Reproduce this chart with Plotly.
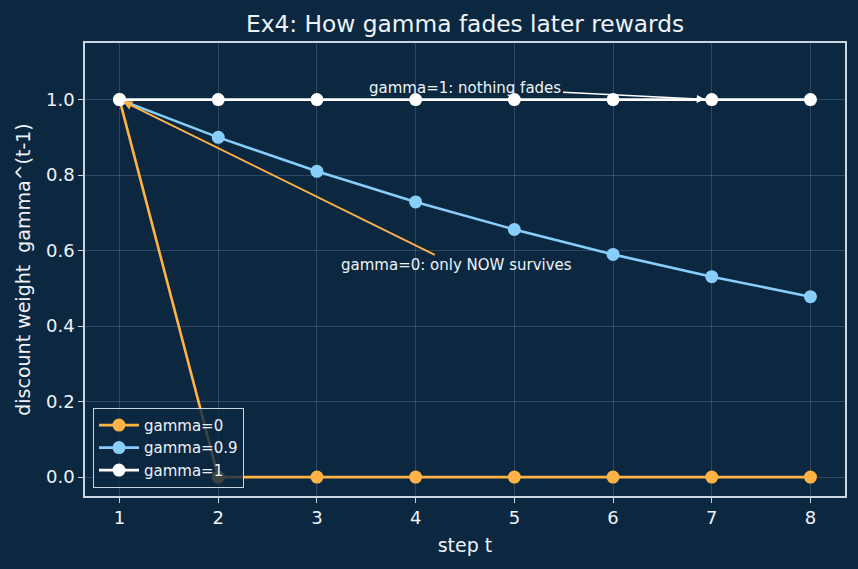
import plotly.graph_objects as go

# ---- data ----
steps = [1, 2, 3, 4, 5, 6, 7, 8]
gamma_0 = [1.0, 0.0, 0.0, 0.0, 0.0, 0.0, 0.0, 0.0]
gamma_09 = [1.0, 0.90, 0.81, 0.729, 0.656, 0.590, 0.531, 0.478]
gamma_1 = [1.0, 1.0, 1.0, 1.0, 1.0, 1.0, 1.0, 1.0]
series_names = ["gamma=0", "gamma=0.9", "gamma=1"]
x_ticks = [1, 2, 3, 4, 5, 6, 7, 8]
y_ticks = [0.0, 0.2, 0.4, 0.6, 0.8, 1.0]

BG = "#0c2841"
SPINE = "#c9d6e2"
TXT = "#eef3f8"
ORANGE = "#ffb347"
BLUE = "#87cefa"
WHITE = "#ffffff"
FONT = "DejaVu Sans"

fig = go.Figure()
for name, ys, col in zip(series_names, [gamma_0, gamma_09, gamma_1], [ORANGE, BLUE, WHITE]):
    fig.add_trace(go.Scatter(
        x=steps, y=ys, name=name, mode="lines+markers",
        line=dict(color=col, width=2.6),
        marker=dict(color=col, size=13, line=dict(width=0)),
    ))

fig.add_annotation(
    x=7, y=1.0, xref="x", yref="y",
    ax=4.505, ay=1.032, axref="x", ayref="y",
    text="gamma=1: nothing fades", showarrow=True,
    arrowhead=2, arrowsize=1.0, arrowwidth=1.6, arrowcolor=WHITE,
    standoff=7, font=dict(family=FONT, size=15, color=TXT),
)
fig.add_annotation(
    x=1, y=1.0, xref="x", yref="y",
    ax=4.41, ay=0.561, axref="x", ayref="y",
    text="gamma=0: only NOW survives", showarrow=True,
    arrowhead=2, arrowsize=1.0, arrowwidth=1.8, arrowcolor=ORANGE,
    standoff=4, font=dict(family=FONT, size=15, color=TXT),
)

axis_common = dict(
    showline=True, linecolor=SPINE, linewidth=1.5, mirror=True,
    ticks="outside", ticklen=5, tickwidth=1.2, tickcolor=SPINE,
    showgrid=True, gridcolor="rgba(200,220,240,0.18)", gridwidth=0.8,
    zeroline=False, tickfont=dict(family=FONT, size=18, color=TXT),
)

fig.update_layout(
    width=858, height=569,
    margin=dict(l=85, r=13, t=43, b=73),
    paper_bgcolor=BG, plot_bgcolor=BG,
    font=dict(family=FONT, color=TXT),
    title=dict(text="Ex4: How gamma fades later rewards", x=0.542, xanchor="center",
               y=0.958, yanchor="middle", yref="container",
               font=dict(family=FONT, size=23.3, color=TXT)),
    xaxis=dict(range=[0.65, 8.35], tickvals=x_ticks,
               title=dict(text="step t", standoff=11, font=dict(family=FONT, size=19, color=TXT)),
               **axis_common),
    yaxis=dict(range=[-0.05, 1.15], tickvals=y_ticks, tickformat=".1f",
               title=dict(text="discount weight  gamma^(t-1)", standoff=10,
                          font=dict(family=FONT, size=19, color=TXT)),
               **axis_common),
    legend=dict(x=0.0105, y=0.018, xanchor="left", yanchor="bottom",
                bgcolor="rgba(12,40,65,0.8)", bordercolor=SPINE, borderwidth=1,
                itemwidth=40,
                font=dict(family=FONT, size=15, color=TXT), tracegroupgap=0),
    showlegend=True,
)

fig.write_html("out.html")
